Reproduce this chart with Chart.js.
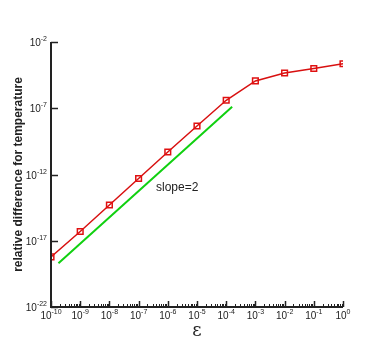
<!DOCTYPE html>
<html>
<head>
<meta charset="utf-8">
<script src="https://cdn.jsdelivr.net/npm/chart.js@4"></script>
<style>
  body { margin: 0; background: #fff; }
  #wrap { width: 389px; height: 346px; }
</style>
</head>
<body>
<div id="wrap"><canvas id="errChart" width="389" height="346"></canvas></div>
<script>
// eps values (one per decade) and the relative temperature difference
const epsilon = [1e-10, 1e-9, 1e-8, 1e-7, 1e-6, 1e-5, 1e-4, 1e-3, 1e-2, 1e-1, 1e0];
const relDiff = [6.0e-19, 5.0e-17, 5.0e-15, 5.0e-13, 5.0e-11, 4.6e-9, 4.0e-7, 1.15e-5, 4.6e-5, 1.0e-4, 2.3e-4];

// reference line of slope 2
const slopeX = [1.8e-10, 1.6e-4];
const slopeY = [2.0e-19, 1.3e-7];

// axis ticks (exponents)
const xTickExp = [-10, -9, -8, -7, -6, -5, -4, -3, -2, -1, 0];
const yTickExp = [-22, -17, -12, -7, -2];

const axisColor = '#222';
const tickFont = 'Liberation Sans, Arial, sans-serif';

// draws axes, inward ticks and 10^n labels on the canvas
const axesPlugin = {
    id: 'axesPlugin',
    afterDraw(chart) {
        const ctx = chart.ctx;
        const xs = chart.scales.x;
        const ys = chart.scales.y;
        const area = chart.chartArea;

        ctx.save();
        ctx.strokeStyle = axisColor;
        ctx.lineWidth = 2;
        ctx.beginPath();
        ctx.moveTo(area.left, area.top);
        ctx.lineTo(area.left, area.bottom);
        ctx.lineTo(area.right, area.bottom);
        ctx.stroke();

        // x major + minor ticks
        xTickExp.forEach((e, i) => {
            const px = Math.round(xs.getPixelForValue(Math.pow(10, e))) + 0.5;
            ctx.beginPath();
            ctx.moveTo(px, area.bottom);
            ctx.lineTo(px, area.bottom - 6);
            ctx.lineWidth = 1.5;
            ctx.stroke();
            if (i < xTickExp.length - 1) {
                ctx.lineWidth = 1;
                for (let k = 2; k <= 9; k++) {
                    const mx = Math.round(xs.getPixelForValue(k * Math.pow(10, e))) + 0.5;
                    ctx.beginPath();
                    ctx.moveTo(mx, area.bottom);
                    ctx.lineTo(mx, area.bottom - 3);
                    ctx.stroke();
                }
            }
        });
        // y major ticks
        ctx.lineWidth = 1.5;
        yTickExp.forEach(e => {
            const py = Math.round(ys.getPixelForValue(Math.pow(10, e))) + 0.5;
            ctx.beginPath();
            ctx.moveTo(area.left, py);
            ctx.lineTo(area.left + 7, py);
            ctx.stroke();
        });

        ctx.fillStyle = '#222';
        ctx.textBaseline = 'alphabetic';
        const drawPow = (e, x, y, align) => {
            ctx.font = '10px ' + tickFont;
            const wb = ctx.measureText('10').width;
            ctx.font = '7px ' + tickFont;
            const ws = ctx.measureText(String(e)).width;
            const total = wb + ws;
            let x0 = align === 'center' ? x - total / 2 : x - total;
            ctx.textAlign = 'left';
            ctx.font = '10px ' + tickFont;
            ctx.fillText('10', x0, y);
            ctx.font = '7px ' + tickFont;
            ctx.fillText(String(e), x0 + wb, y - 5);
        };
        xTickExp.forEach(e => {
            drawPow(e, xs.getPixelForValue(Math.pow(10, e)), area.bottom + 12, 'center');
        });
        yTickExp.forEach(e => {
            drawPow(e, area.left - 4, ys.getPixelForValue(Math.pow(10, e)) + 4, 'right');
        });

        // axis titles
        ctx.textAlign = 'center';
        ctx.font = '18px "DejaVu Serif", serif';
        ctx.fillText('\u03B5', (area.left + area.right) / 2, 336);

        ctx.save();
        ctx.translate(22, (area.top + area.bottom) / 2);
        ctx.rotate(-Math.PI / 2);
        ctx.font = 'bold 12px ' + tickFont;
        ctx.fillText('relative difference for temperature', 0, 0);
        ctx.restore();

        // slope annotation
        ctx.textAlign = 'left';
        ctx.font = '12px ' + tickFont;
        ctx.fillText('slope=2', 156, 191);
        ctx.restore();
    }
};

const errConfig = {
    type: 'line',
    data: {
        datasets: [
            {
                label: 'relative difference',
                data: epsilon.map((x, i) => ({ x: x, y: relDiff[i] })),
                borderColor: '#d81010',
                borderWidth: 1.5,
                pointStyle: 'rect',
                pointRadius: 4,
                pointBorderWidth: 1.5,
                pointBorderColor: '#e01010',
                pointBackgroundColor: 'rgba(0,0,0,0)',
                fill: false,
                tension: 0
            },
            {
                label: 'slope=2',
                data: slopeX.map((x, i) => ({ x: x, y: slopeY[i] })),
                borderColor: '#10d010',
                borderWidth: 2,
                pointRadius: 0,
                fill: false
            }
        ]
    },
    options: {
        responsive: false,
        animation: false,
        layout: { padding: { left: 51, right: 46, top: 42, bottom: 39 } },
        plugins: { legend: { display: false }, tooltip: { enabled: false } },
        scales: {
            x: { type: 'logarithmic', min: 1e-10, max: 1, display: false },
            y: { type: 'logarithmic', min: 1e-22, max: 1e-2, display: false }
        }
    },
    plugins: [axesPlugin]
};

var errChart = new Chart(document.getElementById('errChart'), errConfig);
</script>
</body>
</html>
